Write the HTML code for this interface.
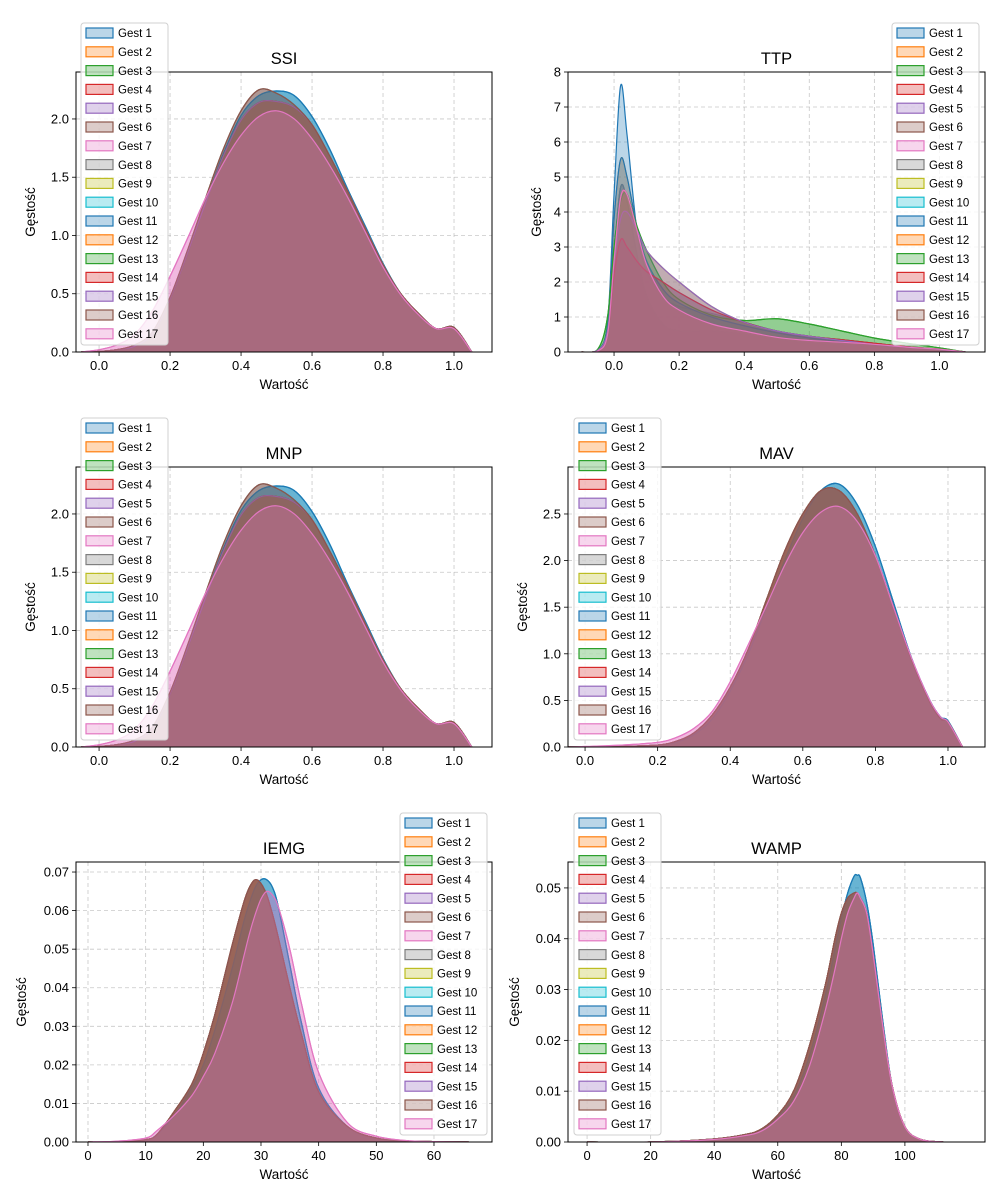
<!DOCTYPE html>
<html><head><meta charset="utf-8">
<style>
html,body{margin:0;padding:0;background:#fff;}
svg{display:block;font-family:"Liberation Sans","DejaVu Sans",sans-serif;}
</style></head>
<body>
<svg id="fig" width="1000" height="1200" viewBox="0 0 1000 1200" xmlns="http://www.w3.org/2000/svg"></svg>
<script>
// ---- DATA ----
const gestNames = ["Gest 1","Gest 2","Gest 3","Gest 4","Gest 5","Gest 6","Gest 7","Gest 8","Gest 9","Gest 10","Gest 11","Gest 12","Gest 13","Gest 14","Gest 15","Gest 16","Gest 17"];
const colors = ["#1f77b4","#ff7f0e","#2ca02c","#d62728","#9467bd","#8c564b","#e377c2","#7f7f7f","#bcbd22","#17becf","#1f77b4","#ff7f0e","#2ca02c","#d62728","#9467bd","#8c564b","#e377c2"];

const ssiX = [-0.05,0,0.05,0.1,0.15,0.2,0.25,0.3,0.35,0.4,0.45,0.5,0.55,0.6,0.65,0.7,0.75,0.8,0.85,0.9,0.95,1.0,1.05];
const ssiA = [0,0.005,0.02,0.05,0.15,0.45,0.85,1.28,1.7,2.03,2.2,2.24,2.2,2.02,1.74,1.4,1.08,0.76,0.5,0.33,0.2,0.21,0];
const ssiB = [0,0.02,0.06,0.15,0.35,0.65,0.98,1.32,1.62,1.86,2.02,2.07,2.0,1.83,1.6,1.33,1.03,0.73,0.49,0.32,0.2,0.2,0];
const ssiC = [0,0.005,0.02,0.06,0.17,0.47,0.88,1.32,1.74,2.07,2.25,2.22,2.12,1.95,1.68,1.38,1.06,0.75,0.5,0.33,0.2,0.21,0];
const ssiD = [0,0.005,0.02,0.05,0.16,0.46,0.86,1.28,1.68,1.99,2.14,2.15,2.1,1.95,1.68,1.38,1.06,0.75,0.5,0.33,0.2,0.21,0];
const ssiMap = [ssiA,ssiD,ssiD,ssiD,ssiD,ssiC,ssiB,ssiC,ssiD,ssiA,ssiA,ssiD,ssiD,ssiD,ssiD,ssiC,ssiB];

const ttpX = [-0.1,-0.05,-0.02,0,0.02,0.04,0.07,0.1,0.15,0.2,0.3,0.4,0.5,0.6,0.7,0.8,0.9,1.0,1.08];
const ttp1 = [0,0.05,0.8,4.5,7.6,6.2,3.5,2.3,1.6,1.3,1.1,0.85,0.6,0.45,0.35,0.25,0.15,0.08,0];
const ttp2 = [0,0.05,0.8,3.8,5.5,5.0,3.6,2.6,1.8,1.4,1.0,0.75,0.55,0.4,0.3,0.2,0.13,0.07,0];
const ttp3 = [0,0.08,1.0,3.0,4.3,4.5,3.6,2.9,2.0,1.5,1.05,0.9,0.95,0.8,0.6,0.4,0.25,0.12,0];
const ttp5 = [0,0.05,0.6,2.5,3.8,4.0,3.5,2.9,2.4,2.0,1.3,0.85,0.6,0.45,0.33,0.22,0.14,0.07,0];
const ttp7 = [0,0.03,0.5,2.6,4.4,4.5,3.5,2.5,1.6,1.2,0.8,0.6,0.42,0.33,0.28,0.22,0.14,0.08,0];
const ttp14 = [0,0.03,0.5,2.2,3.2,3.0,2.6,2.3,2.0,1.7,1.2,0.85,0.6,0.45,0.35,0.25,0.15,0.08,0];
const ttp8 = [0,0.05,0.6,2.8,4.7,4.3,2.8,1.6,0.8,0.6,0.6,0.5,0.35,0.25,0.2,0.15,0.1,0.05,0];
const ttpMap = [ttp1,ttp2,ttp3,ttp14,ttp5,ttp8,ttp7,ttp8,ttp5,ttp14,ttp2,ttp7,ttp3,ttp14,ttp5,ttp7,ttp7];

const mavX = [-0.05,0,0.1,0.2,0.25,0.3,0.35,0.4,0.45,0.5,0.55,0.6,0.65,0.7,0.75,0.8,0.85,0.9,0.95,0.98,1.0,1.04];
const mavA = [0,0,0.005,0.02,0.05,0.13,0.3,0.6,1.0,1.5,2.0,2.45,2.75,2.82,2.6,2.15,1.55,0.95,0.5,0.32,0.28,0];
const mavB = [0,0.005,0.02,0.05,0.1,0.2,0.38,0.7,1.1,1.52,1.95,2.3,2.52,2.58,2.42,2.05,1.5,0.95,0.5,0.32,0.27,0];
const mavC = [0,0,0.005,0.02,0.06,0.15,0.34,0.64,1.05,1.58,2.1,2.5,2.75,2.75,2.5,2.05,1.5,0.93,0.48,0.3,0.27,0];
const mavMap = [mavA,mavC,mavC,mavC,mavC,mavC,mavB,mavC,mavC,mavA,mavA,mavC,mavC,mavC,mavC,mavC,mavB];

const iemgX = [0,5,10,12,15,18,20,22,25,27,28,29,30,31,32,33,35,37,40,45,50,55,60,66];
const iemgA = [0,0,0.0005,0.002,0.007,0.014,0.02,0.029,0.045,0.057,0.062,0.066,0.068,0.068,0.066,0.061,0.046,0.031,0.014,0.004,0.001,0.0003,0.0001,0];
const iemgB = [0,0,0.0006,0.002,0.008,0.015,0.023,0.033,0.051,0.062,0.066,0.068,0.067,0.064,0.059,0.053,0.04,0.028,0.013,0.004,0.001,0.0003,0.0001,0];
const iemgC = [0,0.0002,0.001,0.003,0.007,0.012,0.017,0.023,0.036,0.048,0.054,0.059,0.063,0.065,0.064,0.061,0.05,0.036,0.018,0.005,0.0015,0.0004,0.0001,0];
const iemgMap = [iemgA,iemgB,iemgB,iemgB,iemgB,iemgB,iemgC,iemgB,iemgB,iemgA,iemgA,iemgB,iemgB,iemgB,iemgB,iemgB,iemgC];

const wampX = [0,20,40,50,55,60,65,70,75,78,80,82,84,85,86,88,90,93,96,100,105,112];
const wampA = [0,0,0.0006,0.0015,0.0025,0.005,0.009,0.017,0.029,0.038,0.044,0.049,0.0523,0.0525,0.052,0.047,0.039,0.024,0.011,0.003,0.0005,0];
const wampB = [0,0,0.0006,0.0015,0.0026,0.0053,0.01,0.019,0.031,0.04,0.045,0.048,0.049,0.049,0.048,0.045,0.037,0.023,0.011,0.003,0.0005,0];
const wampC = [0,0,0.0005,0.0013,0.0022,0.0045,0.008,0.015,0.026,0.034,0.04,0.045,0.048,0.049,0.048,0.045,0.037,0.023,0.011,0.003,0.0005,0];
const wampMap = [wampA,wampB,wampB,wampB,wampB,wampB,wampC,wampB,wampB,wampA,wampA,wampB,wampB,wampB,wampB,wampB,wampC];

const ssiXTicks = [0,0.2,0.4,0.6,0.8,1.0];
const ssiXTickLabels = ["0.0","0.2","0.4","0.6","0.8","1.0"];
const ssiYTicks = [0,0.5,1.0,1.5,2.0];
const ssiYTickLabels = ["0.0","0.5","1.0","1.5","2.0"];
const ttpYTicks = [0,1,2,3,4,5,6,7,8];
const ttpYTickLabels = ["0","1","2","3","4","5","6","7","8"];
const mavYTicks = [0,0.5,1.0,1.5,2.0,2.5];
const mavYTickLabels = ["0.0","0.5","1.0","1.5","2.0","2.5"];
const iemgXTicks = [0,10,20,30,40,50,60];
const iemgXTickLabels = ["0","10","20","30","40","50","60"];
const iemgYTicks = [0,0.01,0.02,0.03,0.04,0.05,0.06,0.07];
const iemgYTickLabels = ["0.00","0.01","0.02","0.03","0.04","0.05","0.06","0.07"];
const wampXTicks = [0,20,40,60,80,100];
const wampXTickLabels = ["0","20","40","60","80","100"];
const wampYTicks = [0,0.01,0.02,0.03,0.04,0.05];
const wampYTickLabels = ["0.00","0.01","0.02","0.03","0.04","0.05"];

// ---- DRAWING ----
const NS = "http://www.w3.org/2000/svg";
const fig = document.getElementById('fig');
function mk(tag, attrs, parent){
  const e = document.createElementNS(NS, tag);
  for (const k in attrs) e.setAttribute(k, attrs[k]);
  (parent||fig).appendChild(e);
  return e;
}
function smoothPath(pts){
  let d = "M"+pts[0][0].toFixed(2)+","+pts[0][1].toFixed(2);
  for (let i=0;i<pts.length-1;i++){
    const p0=pts[Math.max(0,i-1)], p1=pts[i], p2=pts[i+1], p3=pts[Math.min(pts.length-1,i+2)];
    const c1x=p1[0]+(p2[0]-p0[0])/6, c1y=p1[1]+(p2[1]-p0[1])/6;
    const c2x=p2[0]-(p3[0]-p1[0])/6, c2y=p2[1]-(p3[1]-p1[1])/6;
    d += " C"+c1x.toFixed(2)+","+c1y.toFixed(2)+" "+c2x.toFixed(2)+","+c2y.toFixed(2)+" "+p2[0].toFixed(2)+","+p2[1].toFixed(2);
  }
  return d;
}

function drawChart(cfg){
  const g = mk('g', {});
  
  
  const L=cfg.box[0], T=cfg.box[1], R=cfg.box[2], B=cfg.box[3];
  const sx = v => L + (v - cfg.xmin)/(cfg.xmax-cfg.xmin)*(R-L);
  const sy = v => B - (v - cfg.ymin)/(cfg.ymax-cfg.ymin)*(B-T);
  const clipId = 'clip-'+cfg.key;
  const defs = mk('defs', {}, g);
  const cp = mk('clipPath', {id: clipId}, defs);
  mk('rect', {x:L, y:T, width:R-L, height:B-T}, cp);
  const grid = mk('g', {stroke:'#b0b0b0','stroke-width':0.8,'stroke-dasharray':'4,3','stroke-opacity':0.7}, g);
  
  
  cfg.xt.forEach(v=>{ mk('line',{x1:sx(v),x2:sx(v),y1:T,y2:B},grid); });
  cfg.yt.forEach(v=>{ mk('line',{x1:L,x2:R,y1:sy(v),y2:sy(v)},grid); });
  const sg = mk('g', {'clip-path':'url(#'+clipId+')'}, g);
  cfg.map.forEach((ys, i)=>{
    const pts = cfg.xs.map((x,j)=>[sx(x), sy(ys[j])]);
    const line = smoothPath(pts);
    const area = line + " L"+sx(cfg.xs[cfg.xs.length-1]).toFixed(2)+","+sy(0).toFixed(2)+" L"+sx(cfg.xs[0]).toFixed(2)+","+sy(0).toFixed(2)+" Z";
    const a = mk('path', {d: area, fill: colors[i], 'fill-opacity':0.3, stroke:'none'}, sg);
    
    
    const l = mk('path', {d: line, fill:'none', stroke: colors[i], 'stroke-width':1.2}, sg);
    
    
  });
  const fr = mk('rect', {x:L, y:T, width:R-L, height:B-T, fill:'none', stroke:'#000', 'stroke-width':1}, g);
  
  
  cfg.xt.forEach((v,i)=>{
    mk('line',{x1:sx(v),x2:sx(v),y1:B,y2:B+4,stroke:'#000','stroke-width':0.8},g);
    const t = mk('text',{x:sx(v),y:B+18,'text-anchor':'middle','font-size':13,fill:'#000'},g);
    t.textContent = cfg.xl[i];
    
    
  });
  cfg.yt.forEach((v,i)=>{
    mk('line',{x1:L-4,x2:L,y1:sy(v),y2:sy(v),stroke:'#000','stroke-width':0.8},g);
    const t = mk('text',{x:L-7,y:sy(v)+4.5,'text-anchor':'end','font-size':13,fill:'#000'},g);
    t.textContent = cfg.yl[i];
    
    
  });
  const title = mk('text',{x:(L+R)/2,y:T-8,'text-anchor':'middle','font-size':16.5,fill:'#000'},g);
  title.textContent = cfg.title;
  
  
  const xlab = mk('text',{x:(L+R)/2,y:B+37,'text-anchor':'middle','font-size':13.5,fill:'#000'},g);
  xlab.textContent = 'Wartość';
  
  
  const yx = cfg.ylabX, yy=(T+B)/2;
  const ylab = mk('text',{x:yx,y:yy,'text-anchor':'middle','font-size':13.5,fill:'#000',transform:'rotate(-90 '+yx+' '+yy+')'},g);
  ylab.textContent = 'Gęstość';
  
  
  const lg = mk('g', {}, g);
  
  
  const lx = cfg.leg[0], ly = cfg.leg[1];
  mk('rect',{x:lx,y:ly,width:87,height:322,rx:3,fill:'#fff','fill-opacity':0.8,stroke:'#d0d0d0','stroke-width':1},lg);
  gestNames.forEach((n,i)=>{
    const e = mk('g',{},lg);
    
    
    const yy2 = ly + 10 + i*18.8;
    mk('rect',{x:lx+5,y:yy2-5,width:27,height:10,fill:colors[i],'fill-opacity':0.3,stroke:colors[i],'stroke-width':1.2},e);
    const t = mk('text',{x:lx+37,y:yy2+4.2,'font-size':11.5,fill:'#000'},e);
    t.textContent = n;
  });
}

drawChart({key:'ssi',title:'SSI',box:[76,72,492,352],xmin:-0.065,xmax:1.107,ymin:0,ymax:2.403,xs:ssiX,map:ssiMap,xt:ssiXTicks,xl:ssiXTickLabels,yt:ssiYTicks,yl:ssiYTickLabels,ylabX:35,leg:[81,23]});
drawChart({key:'ttp',title:'TTP',box:[568,72,985,352],xmin:-0.1415,xmax:1.14,ymin:0,ymax:8,xs:ttpX,map:ttpMap,xt:ssiXTicks,xl:ssiXTickLabels,yt:ttpYTicks,yl:ttpYTickLabels,ylabX:541,leg:[892,23]});
drawChart({key:'mnp',title:'MNP',box:[76,467,492,747],xmin:-0.065,xmax:1.107,ymin:0,ymax:2.403,xs:ssiX,map:ssiMap,xt:ssiXTicks,xl:ssiXTickLabels,yt:ssiYTicks,yl:ssiYTickLabels,ylabX:35,leg:[81,418]});
drawChart({key:'mav',title:'MAV',box:[568,467,985,747],xmin:-0.047,xmax:1.102,ymin:0,ymax:3.004,xs:mavX,map:mavMap,xt:ssiXTicks,xl:ssiXTickLabels,yt:mavYTicks,yl:mavYTickLabels,ylabX:527,leg:[574,418]});
drawChart({key:'iemg',title:'IEMG',box:[76,862,492,1142],xmin:-2.08,xmax:70.06,ymin:0,ymax:0.0726,xs:iemgX,map:iemgMap,xt:iemgXTicks,xl:iemgXTickLabels,yt:iemgYTicks,yl:iemgYTickLabels,ylabX:26,leg:[400,813]});
drawChart({key:'wamp',title:'WAMP',box:[568,862,985,1142],xmin:-6,xmax:125.2,ymin:0,ymax:0.0551,xs:wampX,map:wampMap,xt:wampXTicks,xl:wampXTickLabels,yt:wampYTicks,yl:wampYTickLabels,ylabX:519,leg:[574,813]});
</script>
</body></html>
